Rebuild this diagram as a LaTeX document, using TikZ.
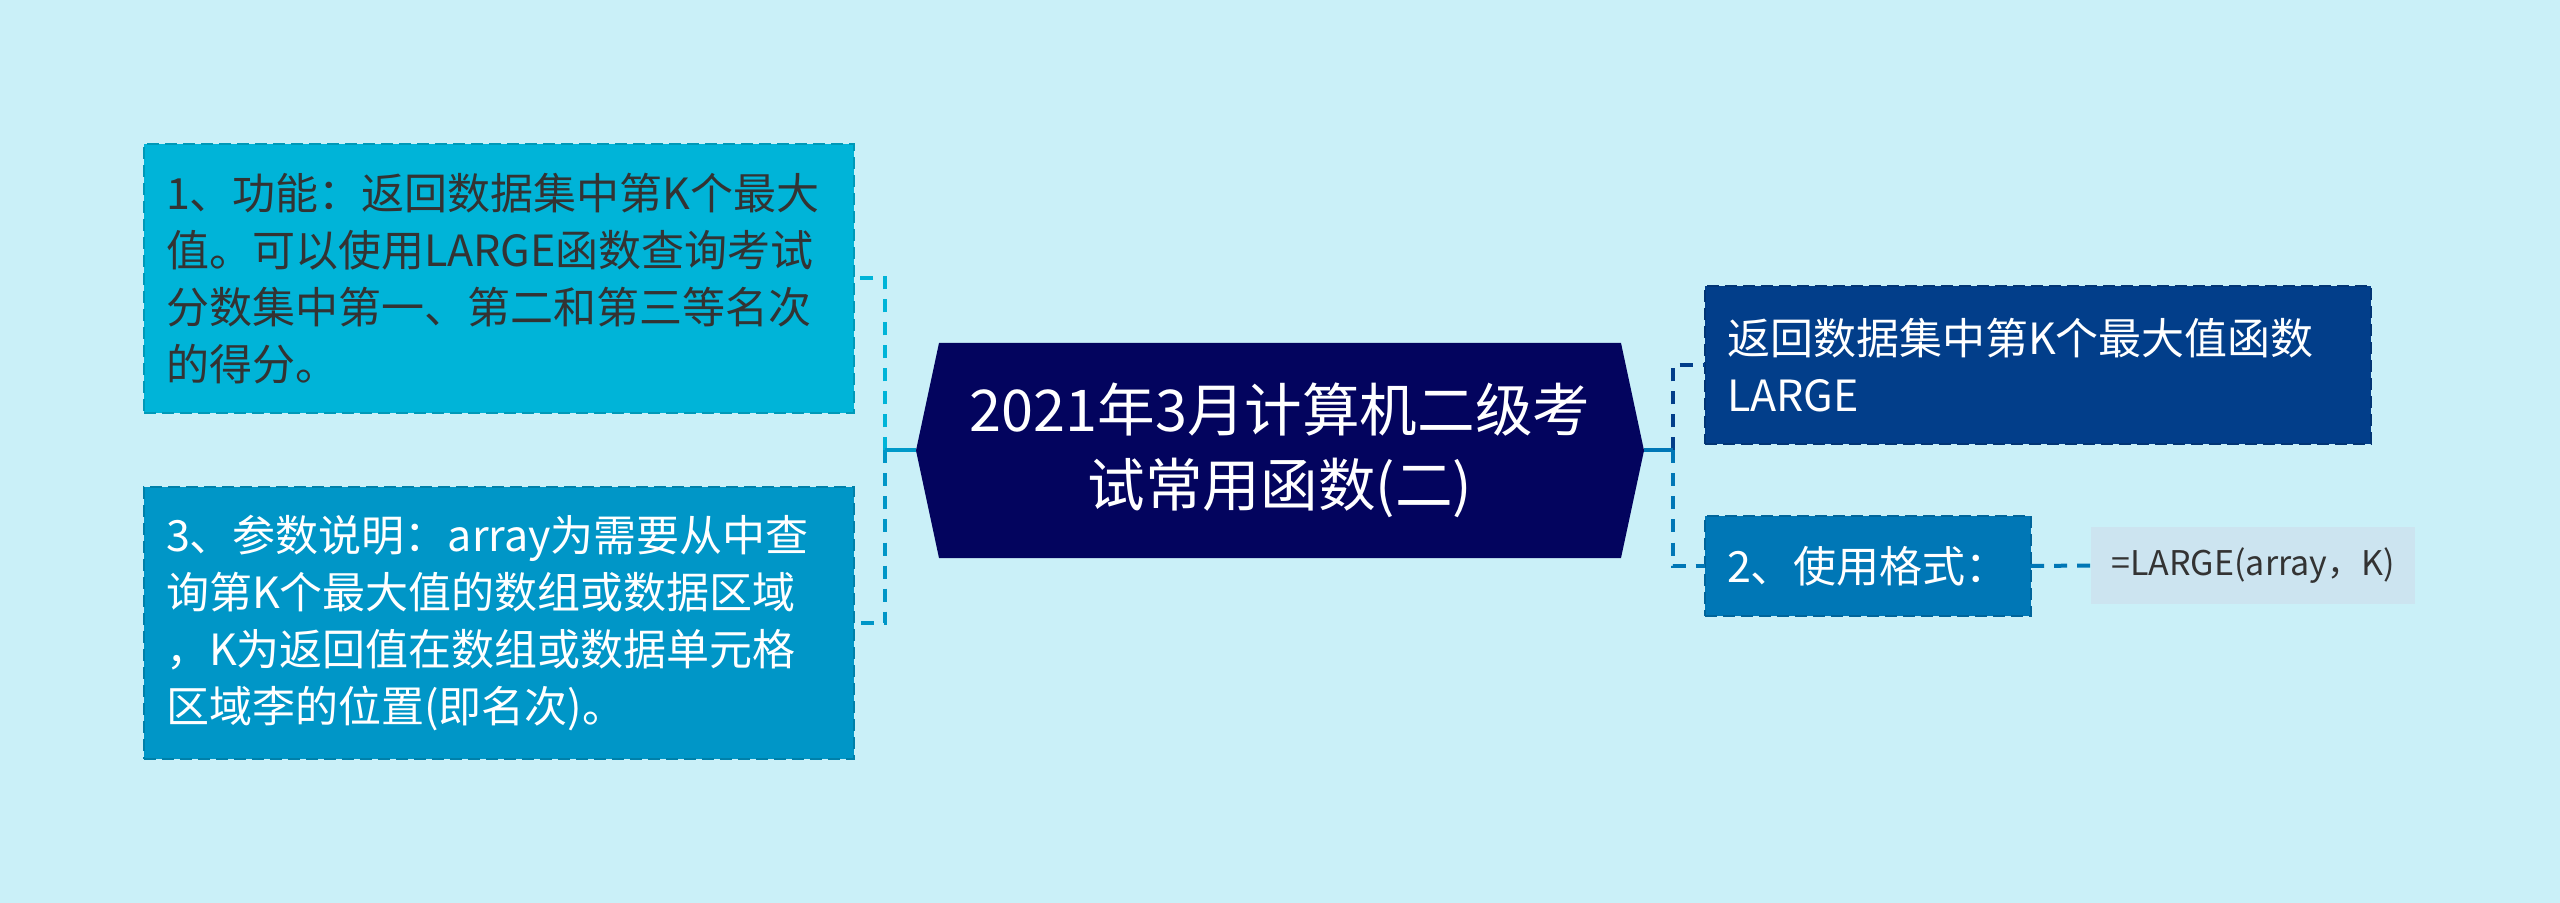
\documentclass[tikz,border=0pt]{standalone}
\usepackage{fontspec}
\setmainfont{Noto Sans CJK SC}
\usepackage{tikz}
\usetikzlibrary{backgrounds}
\definecolor{pageBg}{HTML}{CAF0F8}
\definecolor{navyDeep}{HTML}{03045E}
\definecolor{blueDark}{HTML}{023E8A}
\definecolor{blueMid}{HTML}{0077B6}
\definecolor{blueSea}{HTML}{0096C7}
\definecolor{blueSky}{HTML}{00B4D8}
\definecolor{leafFill}{HTML}{CCE4F0}
\definecolor{textDark}{HTML}{333333}
\tikzset{
  topicbox/.style={rectangle, dashed, dash pattern=on 6pt off 3pt, line width=1.2pt,
    align=left, inner xsep=11pt, inner ysep=0pt, outer sep=0pt,
    font=\fontsize{21.5}{28.5}\selectfont},
  leafbox/.style={rectangle, fill=leafFill, inner xsep=10pt, inner ysep=0pt, outer sep=0pt,
    text=textDark, font=\fontsize{17}{22}\selectfont},
  dlink/.style={line width=2pt, dash pattern=on 6.5pt off 5pt},
  stub/.style={line width=2pt}
}

\begin{document}
\begin{tikzpicture}[x=0.5pt, y=-0.5pt]

  % centre topic
  \node[minimum width=364pt, minimum height=107.5pt, inner sep=0pt, outer sep=0pt, text=white,
        align=center, font=\fontsize{28.8}{37.5}\selectfont] (title) at (1280,450.5)
        {2021年3月计算机二级考\\试常用函数(二)};
  \begin{scope}[on background layer]
    \fill[pageBg] (0,0) rectangle (2560,903);
    \fill[navyDeep] (title.west) -- ([xshift=11.5pt]title.north west) -- ([xshift=-11.5pt]title.north east)
      -- (title.east) -- ([xshift=-11.5pt]title.south east) -- ([xshift=11.5pt]title.south west) -- cycle;
  \end{scope}

  % left side
  \node[topicbox, fill=blueSky, draw=blueSky!85!black, text=textDark, text width=333pt,
        minimum height=134.5pt] (func) at (499,278.5)
        {1、功能：返回数据集中第K个最大\\值。可以使用LARGE函数查询考试\\分数集中第一、第二和第三等名次\\的得分。};
  \node[topicbox, fill=blueSea, draw=blueSea!85!black, text=white, text width=333pt,
        minimum height=136pt] (param) at (499,623)
        {3、参数说明：array为需要从中查\\询第K个最大值的数组或数据区域\\，K为返回值在数组或数据单元格\\区域李的位置(即名次)。};

  % right side
  \node[topicbox, fill=blueDark, draw=blueDark!85!black, text=white, text width=311pt,
        minimum height=79pt] (desc) at (2038,365)
        {返回数据集中第K个最大值函数\\LARGE};
  \node[topicbox, fill=blueMid, draw=blueMid!85!black, text=white, text width=141pt,
        minimum height=50pt] (usage) at (1868,566)
        {2、使用格式：};
  \node[leafbox, minimum width=160pt, minimum height=38.5pt] (formula) at (2253,565.5)
        {=LARGE(array，K)};

  % connectors
  \coordinate (lj) at (885,450.5);
  \coordinate (rj) at (1673,450.5);
  \draw[dlink, blueSky] (lj) |- (func.east);
  \draw[dlink, blueSea] (lj) |- (param.east);
  \draw[stub, blueSea!90!blueSky] (title.west) -- (lj);
  \draw[dlink, blueDark] (rj) |- (desc.west);
  \draw[dlink, blueMid] (rj) |- (usage.west);
  \draw[stub, blueMid] (title.east) -- (rj);
  \draw[dlink, blueMid] (usage.east) -- (formula.west);

\end{tikzpicture}
\end{document}
